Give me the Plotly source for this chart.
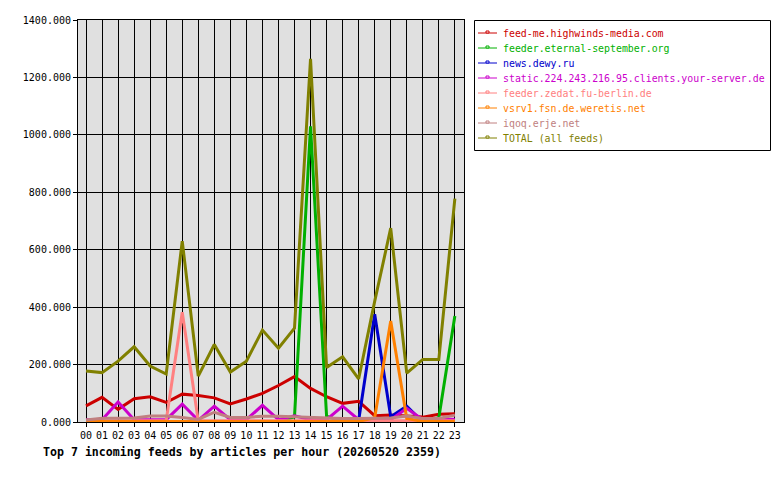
import plotly.graph_objects as go

hours = [f"{h:02d}" for h in range(24)]
hour_idx = list(range(24))

feed_me = [56, 86, 44, 81, 88, 68, 97, 92, 84, 63, 80, 100, 127, 158, 117, 88, 65, 72, 22, 24, 21, 17, 27, 29]
eternal = [0, 0, 0, 0, 0, 0, 0, 0, 0, 0, 0, 0, 0, 18, 1030, 20, 0, 0, 0, 0, 0, 0, 15, 369]
dewy = [0, 0, 0, 0, 0, 0, 0, 0, 0, 0, 0, 0, 0, 0, 0, 0, 0, 5, 375, 18, 55, 0, 0, 0]
static_ys = [8, 8, 70, 8, 8, 8, 62, 6, 55, 8, 8, 58, 8, 22, 8, 8, 55, 8, 6, 8, 48, 8, 8, 10]
zedat = [4, 4, 4, 4, 4, 5, 382, 4, 4, 4, 4, 4, 4, 4, 4, 4, 4, 4, 4, 4, 4, 4, 4, 4]
weretis = [2, 2, 2, 2, 2, 2, 2, 2, 2, 2, 2, 2, 2, 2, 2, 2, 2, 2, 15, 352, 12, 2, 2, 2]
iqoq = [7, 13, 13, 14, 21, 21, 16, 9, 34, 16, 16, 20, 20, 18, 14, 12, 12, 12, 12, 14, 21, 12, 12, 24]
total = [178, 172, 212, 262, 195, 167, 630, 160, 270, 174, 212, 320, 257, 327, 1265, 190, 227, 150, 420, 675, 170, 218, 218, 778]

names = ["feed-me.highwinds-media.com", "feeder.eternal-september.org", "news.dewy.ru",
         "static.224.243.216.95.clients.your-server.de", "feeder.zedat.fu-berlin.de",
         "vsrv1.fsn.de.weretis.net", "iqoq.erje.net", "TOTAL (all feeds)"]
series = [feed_me, eternal, dewy, static_ys, zedat, weretis, iqoq, total]
colors = ["#CC0000", "#00B000", "#0000CC", "#CC00CC", "#FF8080", "#FF8000", "#C08080", "#808000"]

MONO = "DejaVu Sans Mono"

# plot area in pixels
PL, PR, PT, PB = 78, 464, 20, 422
PW, PH = PR - PL, PB - PT


def px(x):
    return (x - PL) / PW


def py(y):
    return (PB - y) / PH


fig = go.Figure()
for name, ys, col in zip(names, series, colors):
    fig.add_trace(go.Scatter(
        x=hour_idx, y=ys, mode="lines", name=name,
        line=dict(color=col, width=3), hoverinfo="skip", showlegend=False,
    ))

shapes = []
annotations = []
# legend box
shapes.append(dict(type="rect", xref="paper", yref="paper",
                   x0=px(474.5), x1=px(770.5), y0=py(150.5), y1=py(20.5),
                   line=dict(color="black", width=1), fillcolor="white", layer="above"))
for i, (name, col) in enumerate(zip(names, colors)):
    yy = 33 + 15 * i
    shapes.append(dict(type="line", xref="paper", yref="paper",
                       x0=px(478), x1=px(497), y0=py(yy), y1=py(yy),
                       line=dict(color=col, width=1), layer="above"))
    shapes.append(dict(type="rect", xref="paper", yref="paper",
                       x0=px(486), x1=px(489), y0=py(yy), y1=py(yy - 2),
                       line=dict(color=col, width=1), fillcolor="white", layer="above"))
    annotations.append(dict(text=name, xref="paper", yref="paper",
                            x=px(501), y=py(yy), xanchor="left", yanchor="middle",
                            showarrow=False, font=dict(family=MONO, size=9.9, color=col)))

annotations.append(dict(
    text="<b>Top 7 incoming feeds by articles per hour (20260520 2359)</b>",
    xref="paper", yref="paper",
    x=px(41), y=py(452),
    xanchor="left", yanchor="middle", showarrow=False,
    font=dict(family=MONO, size=11.6, color="black"),
))

fig.update_layout(
    width=780, height=480,
    margin=dict(l=PL, r=780 - PR, t=PT, b=480 - PB, autoexpand=False),
    paper_bgcolor="white",
    plot_bgcolor="#E0E0E0",
    font=dict(family=MONO, size=10, color="black"),
    showlegend=False,
    xaxis=dict(
        range=[-0.5, 23.57],
        tickvals=hour_idx, ticktext=hours,
        showgrid=True, gridcolor="black", gridwidth=1,
        showline=True, linecolor="black", linewidth=1, mirror=True,
        ticks="outside", ticklen=4, tickcolor="black",
        zeroline=False,
        tickfont=dict(family=MONO, size=10),
    ),
    yaxis=dict(
        range=[0, 1400],
        tickvals=[0, 200, 400, 600, 800, 1000, 1200, 1400],
        tickformat=".3f",
        showgrid=True, gridcolor="black", gridwidth=1,
        showline=True, linecolor="black", linewidth=1, mirror=True,
        ticks="outside", ticklen=4, tickcolor="black",
        zeroline=False,
        tickfont=dict(family=MONO, size=10),
    ),
    shapes=shapes,
    annotations=annotations,
)

fig.write_html("out.html")
